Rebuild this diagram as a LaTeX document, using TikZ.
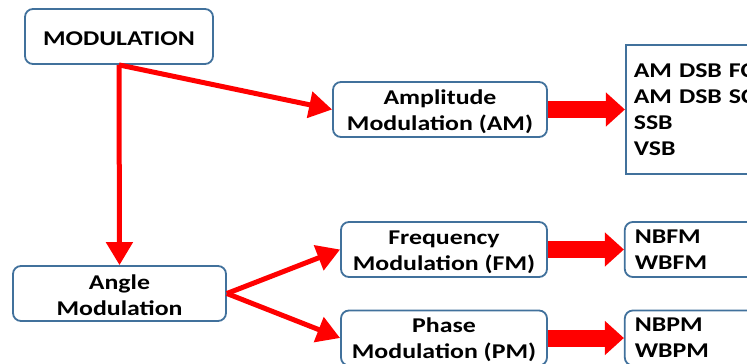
\documentclass[tikz,border=0pt]{standalone}
\usepackage{fontspec}
\setmainfont{Carlito}[FakeStretch=1.23]
\usetikzlibrary{arrows.meta,positioning}
\definecolor{boxblue}{HTML}{41719C}
% a little extra room above the first line of a box
\newcommand{\topgap}{\rule{0pt}{19pt}}

\begin{document}
\begin{tikzpicture}[x=1pt,y=-1pt]
	\tikzstyle{block} = [rectangle, draw=boxblue, line width=1.8pt, rounded corners=8pt, align=center, minimum height=55pt, inner ysep=2pt, font=\fontsize{21}{26}\selectfont\bfseries]
	\tikzstyle{list} = [block, align=left, text width=130pt, inner xsep=10pt]
	\tikzstyle{redarrow} = [draw=red, line width=5pt, -{Triangle[length=23pt,width=26pt]}]
	\tikzstyle{fatarrow} = [draw=red, line width=17pt, -{Triangle[length=19pt,width=33pt]}]

	\useasboundingbox (0,0) rectangle (747,364);
	\clip (0,0) rectangle (747,364);

	\node [block, minimum width=188pt] (mod) at (119,36.5) {\topgap MODULATION};
	\node [block, minimum width=214pt] (am) at (440,109.5) {\topgap Amplitude\\Modulation (AM)};
	\node [block, minimum width=213pt] (angle) at (119.5,293.5) {\topgap Angle\\Modulation};
	\node [block, minimum width=206pt] (fm) at (444,249.5) {\topgap Frequency\\Modulation (FM)};
	\node [block, minimum width=206pt] (pm) at (444,338) {\topgap Phase\\Modulation (PM)};

	\node [list, sharp corners, inner xsep=8pt, minimum height=129pt, right=77pt of am] (amtypes) {AM DSB FC\\AM DSB SC\\SSB\\VSB};
	\node [list, right=76pt of fm] (fmtypes) {NBFM\\WBFM};
	\node [list, right=76pt of pm] (pmtypes) {NBPM\\WBPM};

	\draw [redarrow] (mod.south) -- (angle.north);
	\draw [redarrow] (mod.south) -- (am.west);
	\draw [redarrow] (angle.east) -- (fm.west);
	\draw [redarrow] (angle.east) -- (pm.west);

	\draw [fatarrow] (am.east) -- (amtypes.west);
	\draw [fatarrow] (fm.east) -- (fmtypes.west);
	\draw [fatarrow] (pm.east) -- (pmtypes.west);
\end{tikzpicture}
\end{document}
